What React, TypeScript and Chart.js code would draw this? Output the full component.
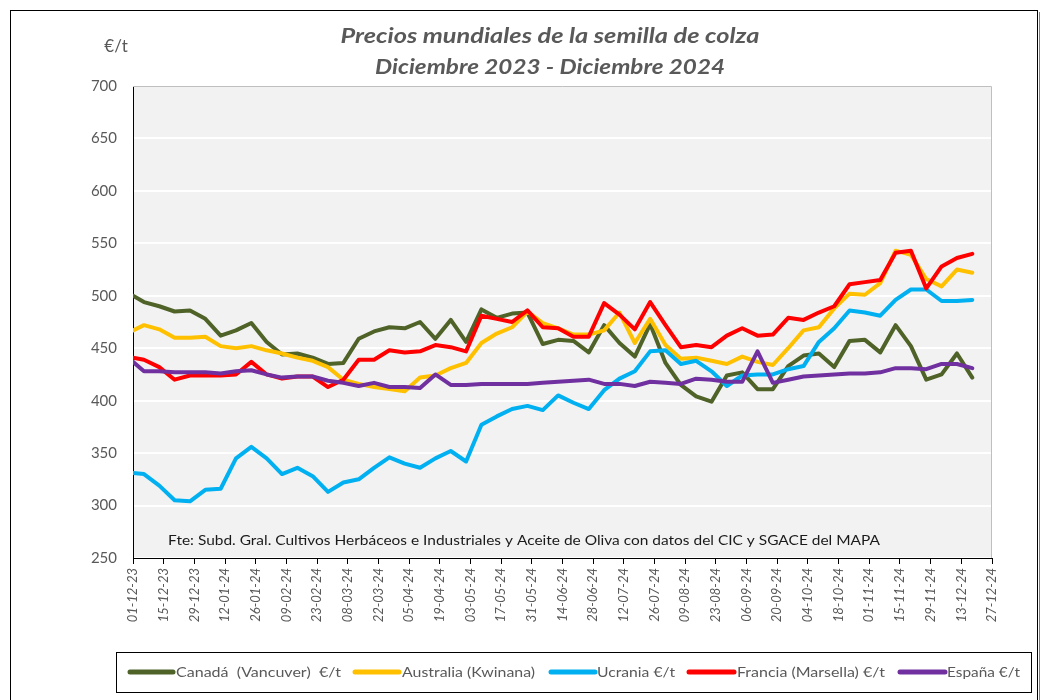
import React, { useEffect, useRef } from 'react';
import { Chart, registerables } from 'chart.js';

Chart.register(...registerables);

// Observation dates (dd-mm-yy)
const dates = [
  '01-12-23', '06-12-23', '13-12-23', '20-12-23', '27-12-23',
  '03-01-24', '10-01-24', '17-01-24', '24-01-24', '31-01-24',
  '07-02-24', '14-02-24', '21-02-24', '28-02-24',
  '06-03-24', '13-03-24', '20-03-24', '27-03-24',
  '03-04-24', '10-04-24', '17-04-24', '24-04-24',
  '01-05-24', '08-05-24', '15-05-24', '22-05-24', '29-05-24',
  '05-06-24', '12-06-24', '19-06-24', '26-06-24',
  '03-07-24', '10-07-24', '17-07-24', '24-07-24', '31-07-24',
  '07-08-24', '14-08-24', '21-08-24', '28-08-24',
  '04-09-24', '11-09-24', '18-09-24', '25-09-24',
  '02-10-24', '09-10-24', '16-10-24', '23-10-24', '30-10-24',
  '06-11-24', '13-11-24', '20-11-24', '27-11-24',
  '04-12-24', '11-12-24', '18-12-24',
];

const xTickLabels = [
  '01-12-23', '15-12-23', '29-12-23', '12-01-24', '26-01-24', '09-02-24', '23-02-24',
  '08-03-24', '22-03-24', '05-04-24', '19-04-24', '03-05-24', '17-05-24', '31-05-24',
  '14-06-24', '28-06-24', '12-07-24', '26-07-24', '09-08-24', '23-08-24', '06-09-24',
  '20-09-24', '04-10-24', '18-10-24', '01-11-24', '15-11-24', '29-11-24', '13-12-24',
  '27-12-24',
];

const canada = [
  500, 494, 490, 485, 486, 478, 462, 467, 474, 456,
  444, 445, 441, 435, 436, 459, 466, 470, 469, 475,
  459, 477, 456, 487, 479, 483, 484, 454, 458, 457,
  446, 472, 455, 442, 473, 436, 415, 404, 399, 424,
  427, 411, 411, 433, 443, 445, 432, 457, 458, 446,
  472, 452, 420, 425, 445, 422,
];

const australia = [
  467, 472, 468, 460, 460, 461, 452, 450, 452, 448,
  445, 441, 438, 432, 420, 416, 413, 411, 409, 422,
  424, 431, 436, 455, 464, 470, 485, 474, 469, 463,
  463, 467, 484, 455, 478, 453, 440, 441, 438, 435,
  442, 437, 434, 450, 467, 470, 488, 502, 501, 512,
  543, 539, 516, 509, 525, 522,
];

const ucrania = [
  331, 330, 319, 305, 304, 315, 316, 345, 356, 345,
  330, 336, 328, 313, 322, 325, 336, 346, 340, 336,
  345, 352, 342, 377, 385, 392, 395, 391, 405, 398,
  392, 410, 421, 428, 447, 448, 435, 438, 428, 414,
  424, 425, 425, 430, 433, 456, 469, 486, 484, 481,
  496, 506, 506, 495, 495, 496,
];

const francia = [
  441, 439, 432, 420, 424, 424, 424, 425, 437, 425,
  421, 423, 423, 413, 420, 439, 439, 448, 446, 447,
  453, 451, 447, 481, 478, 475, 486, 470, 469, 461,
  461, 493, 482, 468, 494, 472, 451, 453, 451, 462,
  469, 462, 463, 479, 477, 484, 490, 511, 513, 515,
  541, 543, 507, 528, 536, 540,
];

const espana = [
  437, 428, 428, 427, 427, 427, 426, 428, 429, 425,
  422, 423, 423, 419, 417, 414, 417, 413, 413, 412,
  425, 415, 415, 416, 416, 416, 416, 417, 418, 419,
  420, 416, 416, 414, 418, 417, 416, 421, 420, 418,
  418, 447, 417, 420, 423, 424, 425, 426, 426, 427,
  431, 431, 430, 435, 435, 431,
];

const seriesNames = [
  'Canadá  (Vancuver)  €/t',
  'Australia (Kwinana)',
  'Ucrania €/t',
  'Francia (Marsella) €/t',
  'España €/t',
];
const seriesColors = ['#4F6228', '#FFC000', '#00B0F0', '#FF0000', '#7030A0'];
const seriesValues = [canada, australia, ucrania, francia, espana];

const titleLines = ['Precios mundiales de la semilla de colza', 'Diciembre 2023 - Diciembre 2024'];
const unitLabel = '€/t';
const sourceNote =
  'Fte: Subd. Gral. Cultivos Herbáceos e Industriales y Aceite de Oliva con datos del CIC y SGACE del MAPA';

const FONT = 'Lato, "DejaVu Sans", sans-serif';
const GREY = '#595959';

function dayOffset(s: string): number {
  const [d, m, y] = s.split('-').map(Number);
  return (Date.UTC(2000 + y, m - 1, d) - Date.UTC(2023, 11, 1)) / 86400000;
}

function fitText(ctx: CanvasRenderingContext2D, text: string, x: number, y: number, w: number, align: 'left' | 'center') {
  const m = ctx.measureText(text).width;
  const s = w / m;
  ctx.save();
  ctx.translate(x, y);
  ctx.scale(s, 1);
  ctx.textAlign = align;
  ctx.fillText(text, 0, 0);
  ctx.restore();
}

const legendItems = [
  { x1: 130, x2: 173, tx: 176, tw: 165 },
  { x1: 355, x2: 399, tx: 402, tw: 133 },
  { x1: 551, x2: 595, tx: 597, tw: 78 },
  { x1: 689, x2: 734, tx: 737, tw: 148 },
  { x1: 900, x2: 945, tx: 947, tw: 73 },
];

const decor = {
  id: 'decor',
  beforeDraw(chart: any) {
    const { ctx, chartArea: a } = chart;
    ctx.save();
    ctx.fillStyle = '#ffffff';
    ctx.fillRect(0, 0, chart.width, chart.height);
    ctx.fillStyle = '#F2F2F2';
    ctx.fillRect(a.left, a.top, a.right - a.left, a.bottom - a.top);
    ctx.restore();
  },
  beforeDatasetsDraw(chart: any) {
    const { ctx, chartArea: a } = chart;
    ctx.save();
    ctx.strokeStyle = '#BFBFBF';
    ctx.lineWidth = 1;
    ctx.beginPath();
    ctx.moveTo(a.left, a.top + 0.5);
    ctx.lineTo(a.right - 0.5, a.top + 0.5);
    ctx.lineTo(a.right - 0.5, a.bottom);
    ctx.stroke();
    ctx.restore();
  },
  afterDraw(chart: any) {
    const { ctx } = chart;
    ctx.save();
    // outer frame
    ctx.strokeStyle = '#000';
    ctx.lineWidth = 1;
    ctx.strokeRect(10.5, 10.5, 1027, 700);
    ctx.strokeStyle = '#7f7f7f';
    ctx.beginPath();
    ctx.moveTo(1039.5, 12);
    ctx.lineTo(1039.5, 700);
    ctx.stroke();

    // title
    ctx.fillStyle = GREY;
    ctx.textBaseline = 'middle';
    ctx.font = `italic bold 21px ${FONT}`;
    fitText(ctx, titleLines[0], 550, 36, 419, 'center');
    fitText(ctx, titleLines[1], 550, 67, 350, 'center');

    // unit
    ctx.font = `17px ${FONT}`;
    ctx.textAlign = 'center';
    ctx.fillText(unitLabel, 116, 47);

    // source note
    ctx.fillStyle = '#1a1a1a';
    ctx.font = `14px ${FONT}`;
    fitText(ctx, sourceNote, 168, 540, 712, 'left');

    // legend
    ctx.strokeStyle = '#000';
    ctx.lineWidth = 1;
    ctx.strokeRect(116.5, 652.5, 915, 40);
    ctx.font = `14px ${FONT}`;
    legendItems.forEach((it, i) => {
      ctx.strokeStyle = seriesColors[i];
      ctx.lineWidth = 5;
      ctx.lineCap = 'round';
      ctx.beginPath();
      ctx.moveTo(it.x1, 672);
      ctx.lineTo(it.x2, 672);
      ctx.stroke();
      ctx.fillStyle = GREY;
      fitText(ctx, seriesNames[i], it.tx, 672, it.tw, 'left');
    });
    ctx.restore();
  },
};

export default function App() {
  const ref = useRef<HTMLCanvasElement>(null);

  useEffect(() => {
    if (!ref.current) return;
    const order = [5, 4, 3, 2, 1];
    const chart = new Chart(ref.current, {
      type: 'line',
      data: {
        datasets: seriesValues.map((vals, i) => ({
          label: seriesNames[i],
          data: vals.map((v, k) => ({ x: dayOffset(dates[k]), y: v })),
          borderColor: seriesColors[i],
          backgroundColor: seriesColors[i],
          borderWidth: 4,
          pointRadius: 0,
          tension: 0,
          borderJoinStyle: 'round' as const,
          borderCapStyle: 'round' as const,
          order: order[i],
        })),
      },
      options: {
        responsive: false,
        animation: false,
        layout: { padding: { left: 0, top: 86, right: 53, bottom: 62 } },
        plugins: {
          legend: { display: false },
          title: { display: false },
          tooltip: { enabled: false },
        },
        scales: {
          x: {
            type: 'linear',
            min: 0,
            max: 392,
            afterFit: (s: any) => {
              s.height = 80;
            },
            ticks: {
              stepSize: 14,
              autoSkip: false,
              maxRotation: 90,
              minRotation: 90,
              color: GREY,
              padding: 4,
              font: { family: FONT, size: 13, style: 'italic' },
              callback: (v: any) => xTickLabels[Math.round(Number(v) / 14)] ?? '',
            },
            grid: {
              drawOnChartArea: false,
              drawTicks: true,
              tickLength: 6,
              tickColor: '#000',
              tickWidth: 1,
            },
            border: { display: true, color: '#000', width: 1 },
          },
          y: {
            min: 250,
            max: 700,
            afterFit: (s: any) => {
              s.width = 133;
            },
            ticks: {
              stepSize: 50,
              color: GREY,
              padding: 16,
              font: { family: FONT, size: 15 },
            },
            grid: {
              color: '#FFFFFF',
              lineWidth: 2,
              drawTicks: false,
            },
            border: { display: true, color: '#000', width: 1 },
          },
        },
      },
      plugins: [decor],
    });
    return () => chart.destroy();
  }, []);

  return (
    <div style={{ position: 'absolute', left: 0, top: 0, width: 1045, height: 700, background: '#fff' }}>
      <canvas ref={ref} width={1045} height={700} style={{ display: 'block' }} />
    </div>
  );
}
